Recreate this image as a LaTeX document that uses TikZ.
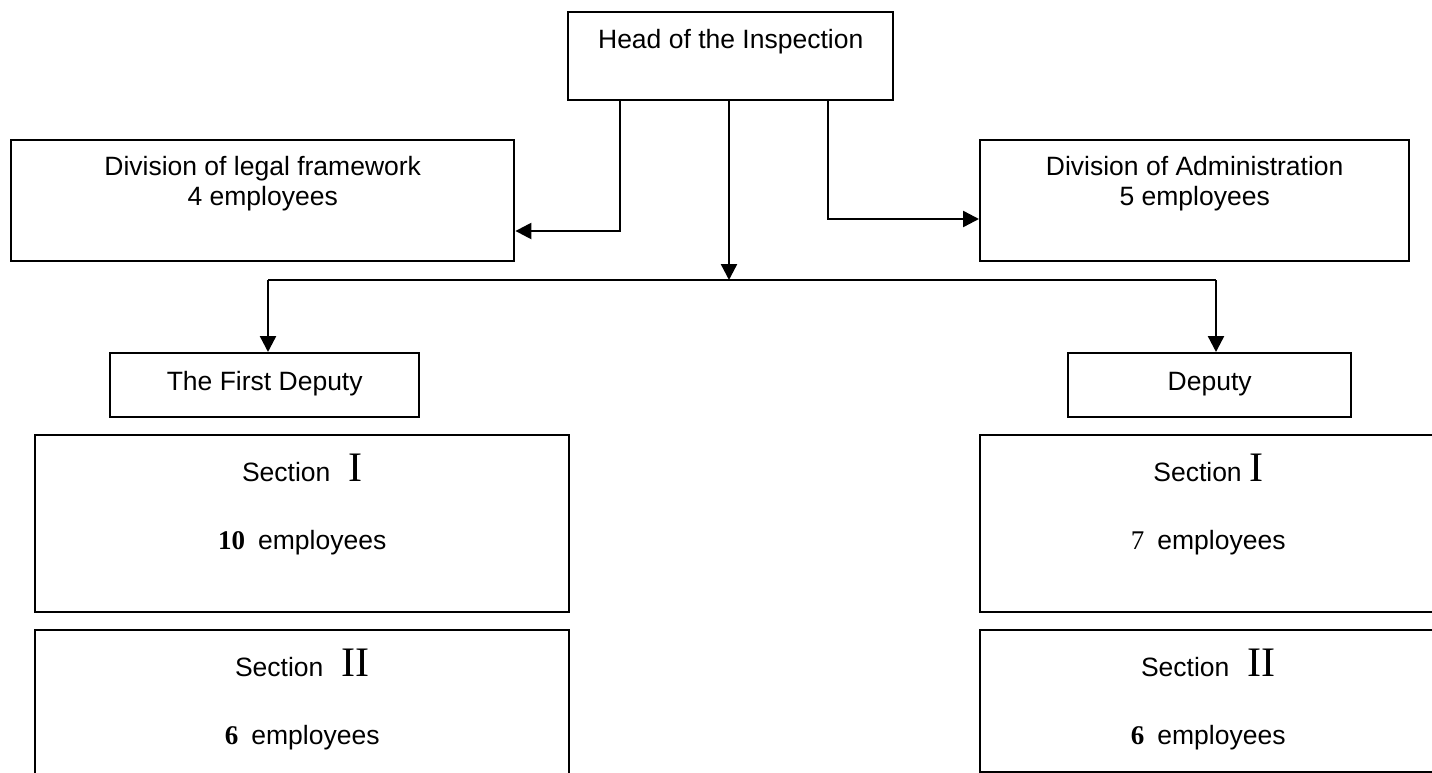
\documentclass[tikz,border=0pt]{standalone}
\usepackage{fontspec}
\setmainfont{Liberation Sans}
\newfontfamily\romfamily{Liberation Serif}
\usepackage{tikz}
\usetikzlibrary{arrows.meta,calc,positioning}

\newcommand{\boxfont}{\fontsize{26.5pt}{29.3pt}\selectfont}
\newcommand{\secno}[1]{{\romfamily\fontsize{42pt}{42pt}\selectfont #1}}
\newcommand{\staffno}[1]{{\romfamily\fontsize{27pt}{27pt}\selectfont #1}}

\tikzset{
  unit/.style={draw, line width=2.4pt, inner sep=0pt, anchor=north west,
    align=center, font=\boxfont},
  wire/.style={line width=2.4pt},
  link/.style={wire, -{Triangle[length=16pt,width=16pt]}}
}

\begin{document}
\begin{tikzpicture}[x=1pt,y=-1pt]
    \useasboundingbox (0,0) rectangle (1432,773);
    % top level
    \node[unit, minimum width=325pt, text height=36pt, text depth=52pt] (head) at (567,11) {Head of the Inspection};
    \node[unit, minimum width=503pt, text height=65pt, text depth=56pt] (legal) at (10,139) {Division of legal framework\\4 employees};
    \node[unit, minimum width=429pt, text height=65pt, text depth=56pt] (admin) at (979,139) {Division of Administration\\5 employees};
    % deputies
    \node[unit, minimum width=309pt, text height=37pt, text depth=27pt] (first) at (109,352) {The First Deputy};
    \node[unit, minimum width=283pt, text height=37pt, text depth=27pt] (deputy) at (1067,352) {Deputy};
    % sections
    \node[unit, minimum width=534pt, text height=114pt, text depth=63pt] (secLa) at (34,434)
        {Section\hspace{18pt}\secno{I}\\[38.7pt]\staffno{\textbf{10}}\hspace{13pt}employees};
    \node[unit, minimum width=534pt, text height=114pt, text depth=60pt] (secLb) at (34,629)
        {Section\hspace{18pt}\secno{II}\\[38.7pt]\staffno{\textbf{6}}\hspace{13pt}employees};
    \node[unit, minimum width=456pt, text height=114pt, text depth=63pt] (secRa) at (979,434)
        {Section \secno{I}\\[38.7pt]\staffno{7}\hspace{13pt}employees};
    \node[unit, minimum width=456pt, text height=114pt, text depth=28pt] (secRb) at (979,629)
        {Section\hspace{18pt}\secno{II}\\[38.7pt]\staffno{\textbf{6}}\hspace{13pt}employees};
    % connectors
    \coordinate (bus) at (729,280);
    \coordinate (busL) at (268,280);
    \coordinate (busR) at (1216,280);
    \draw[link] (head.south -| 620,0) |- (legal.east |- 0,231);
    \draw[link] (head.south -| 828,0) |- (admin.west |- 0,219);
    \draw[link] (head.south -| bus) -- (bus);
    \draw[wire] (busL) -- (busR);
    \draw[link] (busL) -- (busL |- first.north);
    \draw[link] (busR) -- (busR |- deputy.north);
\end{tikzpicture}
\end{document}
